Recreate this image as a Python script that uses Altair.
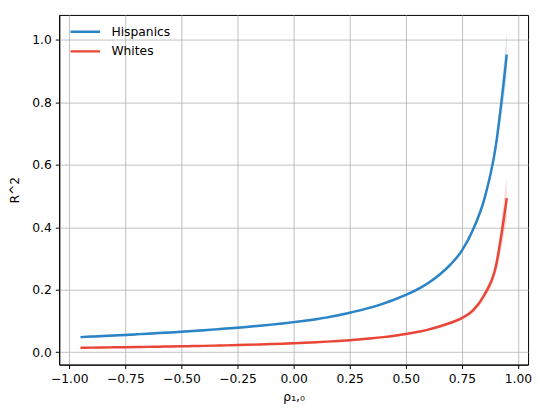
import altair as alt
import pandas as pd

rho = [-0.95, -0.90, -0.85, -0.80, -0.75, -0.70, -0.65, -0.60, -0.55, -0.50,
       -0.45, -0.40, -0.35, -0.30, -0.25, -0.20, -0.15, -0.10, -0.05, 0.00,
       0.05, 0.10, 0.15, 0.20, 0.25, 0.30, 0.35, 0.40, 0.45, 0.50,
       0.55, 0.60, 0.65, 0.70, 0.75, 0.80, 0.85, 0.90, 0.95]

hispanics = [0.0480, 0.0497, 0.0515, 0.0533, 0.0551, 0.0570, 0.0589, 0.0609, 0.0630, 0.0652,
             0.0676, 0.0701, 0.0728, 0.0756, 0.0782, 0.0812, 0.0845, 0.0880, 0.0918, 0.0960,
             0.1005, 0.1055, 0.1112, 0.1180, 0.1260, 0.1345, 0.1440, 0.1555, 0.1685, 0.1830,
             0.2000, 0.2215, 0.2480, 0.2810, 0.3250, 0.3930, 0.4900, 0.6550, 0.9530]
hispanics_spread = [0.004] * 30 + [0.005, 0.005, 0.006, 0.006, 0.007, 0.009, 0.013, 0.022, 0.075]

whites = [0.0140, 0.0144, 0.0148, 0.0153, 0.0158, 0.0163, 0.0168, 0.0174, 0.0180, 0.0186,
          0.0193, 0.0200, 0.0208, 0.0216, 0.0225, 0.0235, 0.0246, 0.0258, 0.0271, 0.0285,
          0.0300, 0.0317, 0.0336, 0.0358, 0.0382, 0.0410, 0.0442, 0.0480, 0.0525, 0.0578,
          0.0643, 0.0722, 0.0820, 0.0940, 0.1090, 0.1340, 0.1830, 0.2700, 0.4930]
whites_spread = [0.003] * 30 + [0.004, 0.004, 0.005, 0.005, 0.006, 0.008, 0.012, 0.022, 0.070]

groups = ["Hispanics", "Whites"]
colors = ["#2a84c6", "#ea4637"]

rows = []
for g, vals, spr in [("Hispanics", hispanics, hispanics_spread), ("Whites", whites, whites_spread)]:
    for x, v, s in zip(rho, vals, spr):
        rows.append({"rho": x, "r2": v, "lo": v - s, "hi": v + s, "group": g})
df = pd.DataFrame(rows)

font = "DejaVu Sans"
fs = 12.5

x_enc = alt.X("rho:Q",
              scale=alt.Scale(domain=[-1.045, 1.045], nice=False, zero=False),
              axis=alt.Axis(values=[-1.0, -0.75, -0.5, -0.25, 0.0, 0.25, 0.5, 0.75, 1.0],
                            format=".2f", title="ρ₁,₀"))
y_scale = alt.Scale(domain=[-0.04, 1.08], nice=False, zero=False)
y_axis = alt.Axis(values=[0.0, 0.2, 0.4, 0.6, 0.8, 1.0], format=".1f", title="R^2")

legend = alt.Legend(title=None, orient="top-left", offset=10,
                    symbolType="stroke", symbolSize=900, symbolOpacity=1,
                    symbolStrokeWidth=2.5, labelFontSize=fs,
                    labelFont=font, labelColor="black", clipHeight=14,
                    rowPadding=6, labelOffset=10)
color_scale = alt.Scale(domain=groups, range=colors)

band = alt.Chart(df).mark_area(opacity=0.2, interpolate="monotone").encode(
    x=x_enc,
    y=alt.Y("lo:Q", scale=y_scale, axis=y_axis),
    y2="hi:Q",
    color=alt.Color("group:N", scale=color_scale, legend=legend),
)

line = alt.Chart(df).mark_line(strokeWidth=2.5, interpolate="monotone").encode(
    x=x_enc,
    y=alt.Y("r2:Q", scale=y_scale, axis=y_axis),
    color=alt.Color("group:N", scale=color_scale, legend=legend),
)

chart = alt.layer(band, line).properties(
    width=476, height=355,
    padding={"left": 52, "top": 4, "right": 4, "bottom": 40},
    autosize=alt.AutoSizeParams(type="none"),
).configure_view(
    stroke="black", strokeWidth=1
).configure_axis(
    grid=True, gridColor="#b0b0b0", gridWidth=0.8,
    domainColor="black", domainWidth=1,
    tickColor="black", tickSize=4, tickWidth=1,
    labelFont=font, labelFontSize=fs, labelColor="black", labelPadding=4,
    titleFont=font, titleFontSize=fs, titleColor="black", titleFontWeight="normal",
).configure_axisY(
    titlePadding=10,
).configure_axisX(
    titlePadding=6, labelFlush=False,
)

chart.save("out.html", embed_options={"renderer": "svg", "actions": False})
